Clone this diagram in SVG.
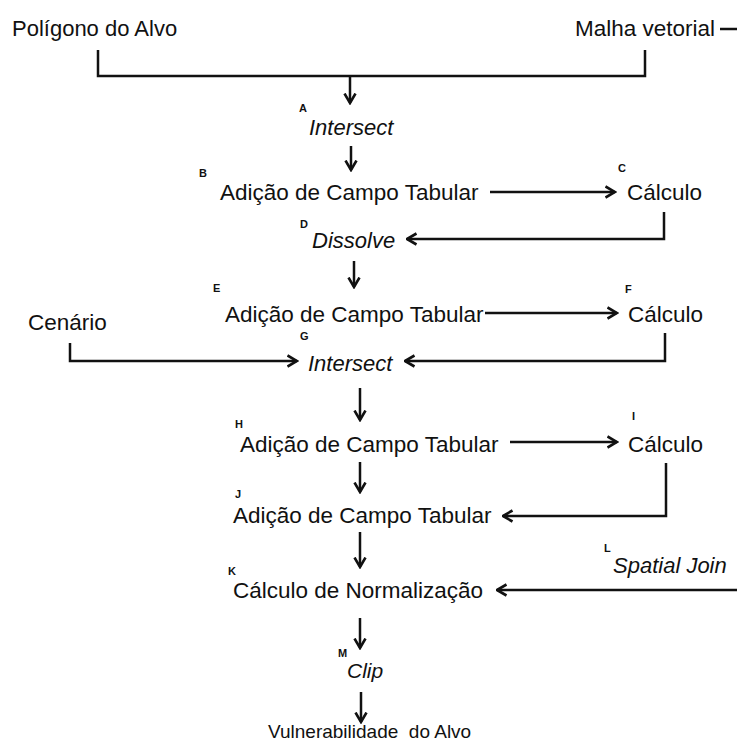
<svg xmlns="http://www.w3.org/2000/svg" width="737" height="742" viewBox="0 0 737 742">
<style>
.t{font-family:"Liberation Sans",Arial,sans-serif;font-size:22.5px;fill:#111}
.i{font-family:"Liberation Sans",Arial,sans-serif;font-size:22px;font-style:italic;fill:#111}
.l{font-family:"Liberation Sans",Arial,sans-serif;font-size:11px;font-weight:bold;fill:#111}
.c{fill:none;stroke:#111;stroke-width:2.5}
</style>
<defs>
<marker id="ah" markerUnits="userSpaceOnUse" viewBox="0 0 12 14" refX="10.5" refY="7" markerWidth="12" markerHeight="14" orient="auto">
<path d="M1,1.5 L10.5,7 L1,12.5" fill="none" stroke="#111" stroke-width="2.6" stroke-linejoin="miter"/>
</marker>
</defs>
<rect width="737" height="742" fill="#fff"/>
<g id="connectors">
<path class="c" d="M98,50 V76 H645 V50"/>
<path class="c" d="M350,76 V103" marker-end="url(#ah)"/>
<path class="c" d="M720,29 H737"/>
<path class="c" d="M351,146 V170" marker-end="url(#ah)"/>
<path class="c" d="M490,192 H615" marker-end="url(#ah)"/>
<path class="c" d="M664,212 V239 H407" marker-end="url(#ah)"/>
<path class="c" d="M354,261 V287" marker-end="url(#ah)"/>
<path class="c" d="M485,313 H617" marker-end="url(#ah)"/>
<path class="c" d="M665,333 V361 H405" marker-end="url(#ah)"/>
<path class="c" d="M70,343 V361 H297" marker-end="url(#ah)"/>
<path class="c" d="M360,388 V420" marker-end="url(#ah)"/>
<path class="c" d="M510,442 H617" marker-end="url(#ah)"/>
<path class="c" d="M360,462 V492" marker-end="url(#ah)"/>
<path class="c" d="M666,463 V516 H503" marker-end="url(#ah)"/>
<path class="c" d="M360,532 V567" marker-end="url(#ah)"/>
<path class="c" d="M737,590 H497" marker-end="url(#ah)"/>
<path class="c" d="M360,618 V648" marker-end="url(#ah)"/>
<path class="c" d="M361,692 V722" marker-end="url(#ah)"/>
</g>
<g id="poligono"><text class="t" x="12" y="36" style="font-size:22px">Polígono do Alvo</text></g>
<g id="malha"><text class="t" x="575" y="36">Malha vetorial</text></g>
<g id="A"><text class="l" x="299" y="112">A</text><text class="i" x="309" y="135">Intersect</text></g>
<g id="B"><text class="l" x="199" y="177">B</text><text class="t" x="220" y="200">Adição de Campo Tabular</text></g>
<g id="C"><text class="l" x="618" y="172">C</text><text class="t" x="627" y="200">Cálculo</text></g>
<g id="D"><text class="l" x="300" y="228">D</text><text class="i" x="312" y="248">Dissolve</text></g>
<g id="E"><text class="l" x="213" y="292">E</text><text class="t" x="225" y="322">Adição de Campo Tabular</text></g>
<g id="F"><text class="l" x="625" y="293">F</text><text class="t" x="628" y="322">Cálculo</text></g>
<g id="cenario"><text class="t" x="28" y="330">Cenário</text></g>
<g id="G"><text class="l" x="300" y="340">G</text><text class="i" x="308" y="371">Intersect</text></g>
<g id="H"><text class="l" x="235" y="428">H</text><text class="t" x="240" y="452">Adição de Campo Tabular</text></g>
<g id="I"><text class="l" x="632" y="420">I</text><text class="t" x="628" y="452">Cálculo</text></g>
<g id="J"><text class="l" x="235" y="498">J</text><text class="t" x="233" y="523">Adição de Campo Tabular</text></g>
<g id="K"><text class="l" x="228" y="575">K</text><text class="t" x="233" y="598">Cálculo de Normalização</text></g>
<g id="L"><text class="l" x="604" y="552">L</text><text class="i" x="613" y="573">Spatial Join</text></g>
<g id="M"><text class="l" x="338" y="657">M</text><text class="i" x="347" y="678" style="font-size:21px">Clip</text></g>
<g id="saida"><text class="t" x="268" y="738" style="font-size:19px" xml:space="preserve">Vulnerabilidade  do Alvo</text></g>
</svg>
